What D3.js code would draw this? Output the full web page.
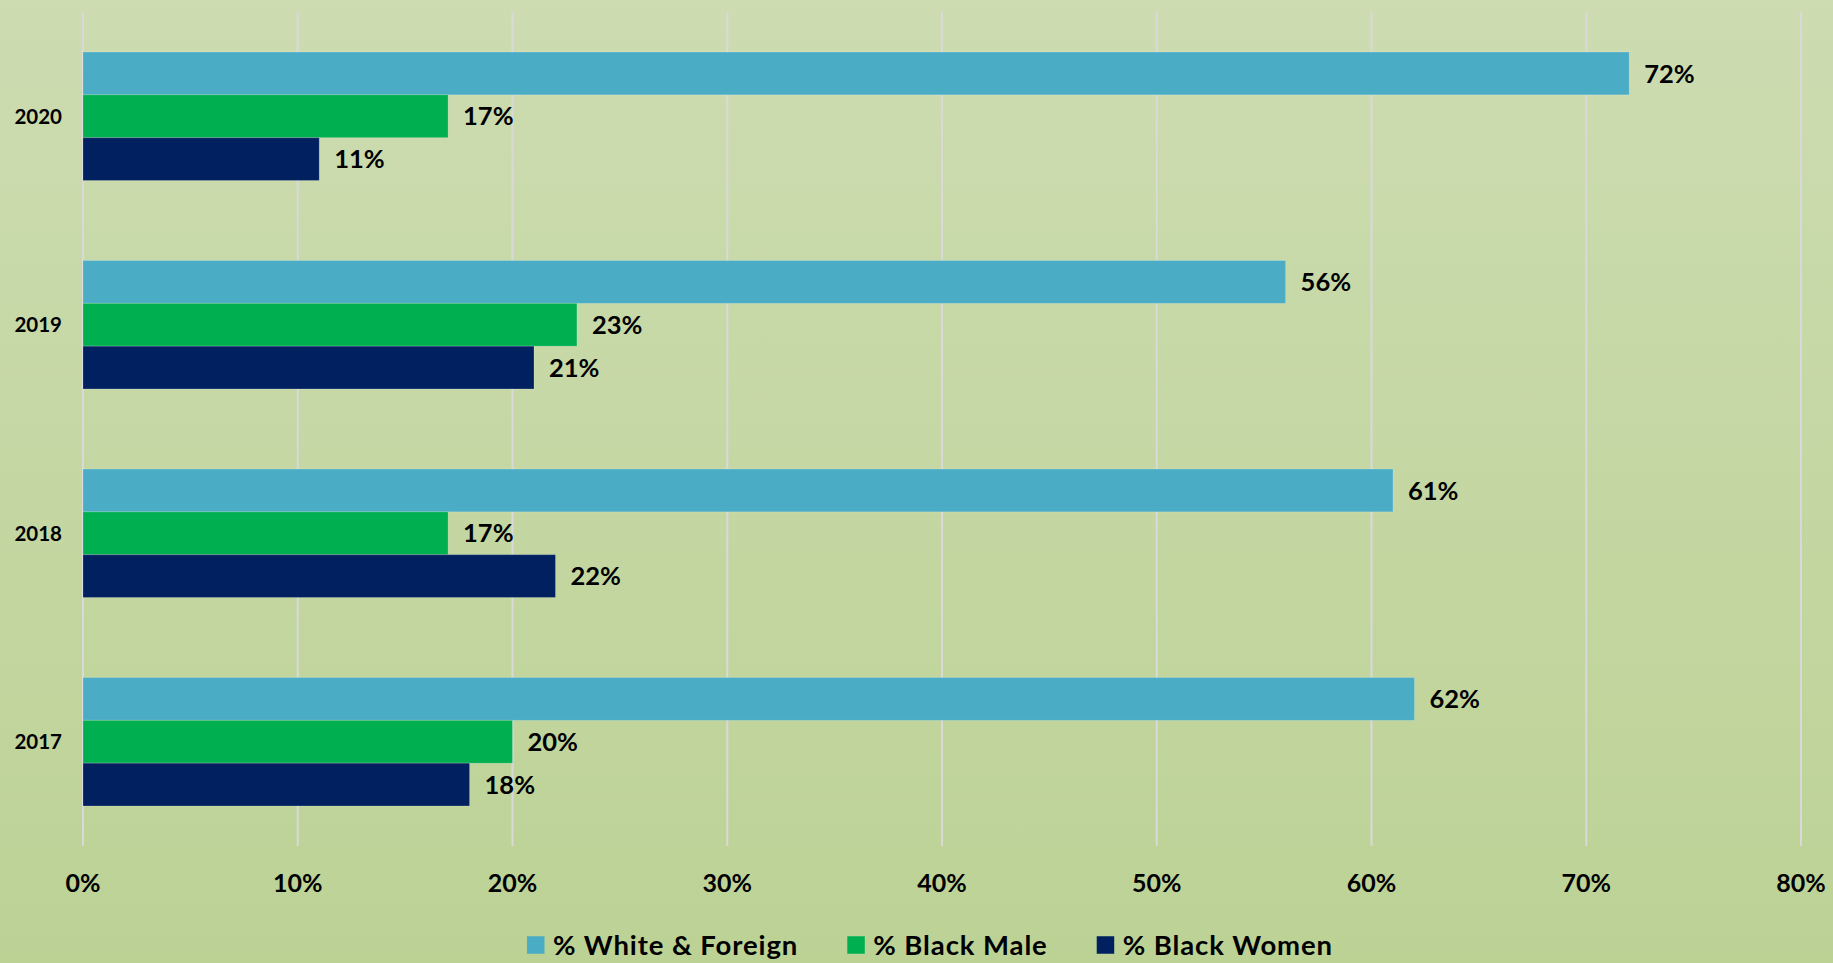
<!DOCTYPE html>
<html>
<head>
<meta charset="utf-8">
<script src="https://cdn.jsdelivr.net/npm/d3@7"></script>
<style>
  html, body { margin: 0; padding: 0; overflow: hidden; }
  svg { display: block; font-family: Lato, "Open Sans", sans-serif; font-weight: 700; }
</style>
</head>
<body>
<svg id="chart"></svg>
<script>
// data
const years = ["2020", "2019", "2018", "2017"];
const whiteForeign = [72, 56, 61, 62];
const blackMale = [17, 23, 17, 20];
const blackWomen = [11, 21, 22, 18];
const xTicks = [0, 10, 20, 30, 40, 50, 60, 70, 80];

const seriesInfo = [
  { id: "white", label: "% White & Foreign", color: "#4bacc6", values: whiteForeign },
  { id: "male", label: "% Black Male", color: "#00b050", values: blackMale },
  { id: "women", label: "% Black Women", color: "#002060", values: blackWomen }
];

const width = 1833;
const height = 963;
const textColor = "#000";

const svg = d3.select("#chart")
  .attr("width", width)
  .attr("height", height);

// background gradient
const defs = svg.append("defs");
const grad = defs.append("linearGradient")
    .attr("id", "bg")
    .attr("x1", 0).attr("y1", 0)
    .attr("x2", 0).attr("y2", 1);
grad.append("stop").attr("offset", "0%").attr("stop-color", "#cddcb1");
grad.append("stop").attr("offset", "100%").attr("stop-color", "#bcd295");

svg.append("rect")
    .attr("width", width)
    .attr("height", height)
    .attr("fill", "url(#bg)");

const xScale = d3.scaleLinear()
  .domain([0, 80])
  .range([83, 1801]);

const yScale = d3.scaleBand()
  .domain(years)
  .range([12, 846])
  .paddingInner(0.384)
  .paddingOuter(0.192);

const innerScale = d3.scaleBand()
  .domain(seriesInfo.map(s => s.id))
  .range([0, yScale.bandwidth()]);

// gridlines
svg.append("g")
    .attr("class", "grid")
  .selectAll("line")
  .data(xTicks)
  .join("line")
    .attr("x1", d => xScale(d))
    .attr("x2", d => xScale(d))
    .attr("y1", 12)
    .attr("y2", 846)
    .attr("stroke", "#d9d9d9")
    .attr("stroke-width", 2);

// x tick labels
svg.append("g")
    .attr("class", "x-labels")
  .selectAll("text")
  .data(xTicks)
  .join("text")
    .attr("x", d => xScale(d))
    .attr("y", 883)
    .attr("dy", "0.36em")
    .attr("text-anchor", "middle")
    .style("font-size", "25px")
    .style("fill", textColor)
    .text(d => d + "%");

// year labels
svg.append("g")
    .attr("class", "y-labels")
  .selectAll("text")
  .data(years)
  .join("text")
    .attr("x", 62)
    .attr("y", d => yScale(d) + yScale.bandwidth() / 2)
    .attr("dy", "0.36em")
    .attr("text-anchor", "end")
    .style("font-size", "20.5px")
    .style("fill", textColor)
    .text(d => d);

// bars + labels
const groups = svg.append("g")
    .attr("class", "bars")
  .selectAll("g")
  .data(years)
  .join("g")
    .attr("transform", d => `translate(0, ${yScale(d)})`);

seriesInfo.forEach(series => {
  groups.append("rect")
      .attr("x", xScale(0))
      .attr("y", innerScale(series.id))
      .attr("width", (d, i) => xScale(series.values[i]) - xScale(0))
      .attr("height", innerScale.bandwidth())
      .attr("fill", series.color)
      .attr("stroke", "rgba(255,255,255,0.18)")
      .attr("stroke-width", 1);

  groups.append("text")
      .attr("x", (d, i) => xScale(series.values[i]) + 15)
      .attr("y", innerScale(series.id) + innerScale.bandwidth() / 2)
      .attr("dy", "0.36em")
      .style("font-size", "25.5px")
      .style("fill", textColor)
      .text((d, i) => series.values[i] + "%");
});

// legend
const legend = svg.append("g").attr("class", "legend");
const items = legend.selectAll("g")
  .data(seriesInfo)
  .join("g");
items.append("rect")
    .attr("width", 17.5)
    .attr("height", 17.5)
    .attr("y", -8.75)
    .attr("fill", d => d.color);
items.append("text")
    .attr("x", 26)
    .attr("dy", "0.36em")
    .style("font-size", "27.5px")
    .style("letter-spacing", "0.9px")
    .style("fill", textColor)
    .text(d => d.label);

let offset = 0;
const positions = [];
items.each(function() {
  const w = this.querySelector("text").getComputedTextLength() + 26;
  positions.push(offset);
  offset += w + 49;
});
const legendWidth = offset - 49;
const legendStart = 930 - legendWidth / 2;
items.attr("transform", (d, i) => `translate(${legendStart + positions[i]}, 945)`);
</script>
</body>
</html>
